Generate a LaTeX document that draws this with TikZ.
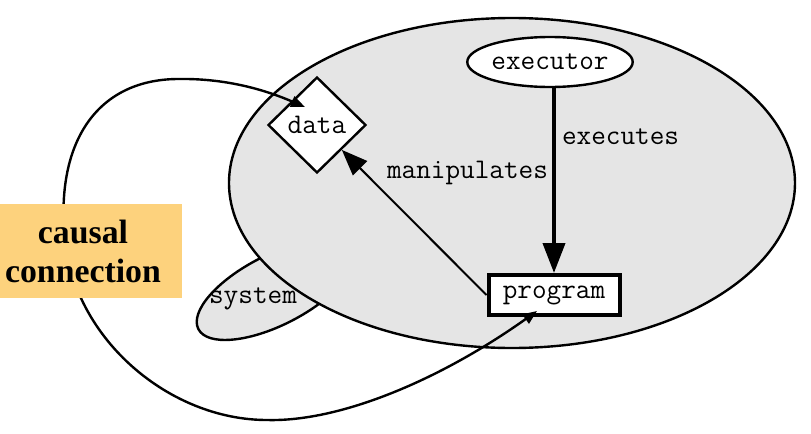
\documentclass[tikz,border=0pt]{standalone}
\usepackage{fontspec}
\setmainfont{Liberation Serif}
\usetikzlibrary{shapes.geometric,arrows.meta}
\definecolor{causalbg}{RGB}{253,210,125}
\definecolor{worldgray}{RGB}{229,229,229}

\begin{document}
\begin{tikzpicture}[x=0.5pt, y=-0.5pt,
    txt/.style={font=\ttfamily\fontsize{14.2}{16}\selectfont},
    region/.style={draw, line width=1.2pt, fill=worldgray},
    thing/.style={txt, draw, fill=white, line width=1.2pt, inner sep=0pt}]
  \useasboundingbox (0,0) rectangle (811,434);
  % System and world regions
  \draw[region, rotate around={27:(275,290)}] (275,290) ellipse (86 and 35);
  \draw[region] (512,183) ellipse (283 and 165);
  \node[txt] (system) at (253,299) {system};
  % Nodes inside the world
  \node[thing, diamond, minimum width=49pt, minimum height=48pt] (data) at (317,125) {data};
  \node[thing, ellipse, minimum width=72pt, minimum height=25pt] (executor) at (550,62) {executor};
  \node[thing, rectangle, line width=2pt, minimum width=65.5pt, minimum height=20pt] (program) at (554,295) {program};
  % Relations
  \draw[line width=2pt, -{Triangle[length=15pt, width=11pt]}] (executor.south -| program) -- (program)
    node[txt, pos=0.26, right, inner sep=3pt] {executes}
    node[txt, pos=0.46, left, inner sep=2pt] {manipulates};
  \draw[line width=1pt, -{Triangle[length=13pt, width=10pt]}] (program.west) -- (data);
  % Causal connection loop
  \coordinate (ptip) at (537,311);
  \coordinate (dtip) at (305,107);
  \draw[line width=1.2pt, {Triangle[length=7pt, width=5.5pt]}-{Triangle[length=7pt, width=5.5pt]}]
    (ptip) .. controls (440,380) and (340,422) .. (267,420)
    .. controls (170,420) and (75,340) .. (65,240)
    .. controls (55,145) and (95,80) .. (177,79)
    .. controls (230,78) and (270,92) .. (dtip);
  \node[fill=causalbg, minimum width=99pt, minimum height=47pt, align=center,
    font=\bfseries\fontsize{16.9}{19.5}\selectfont] (causal) at (83,251) {causal\\connection};
\end{tikzpicture}
\end{document}
